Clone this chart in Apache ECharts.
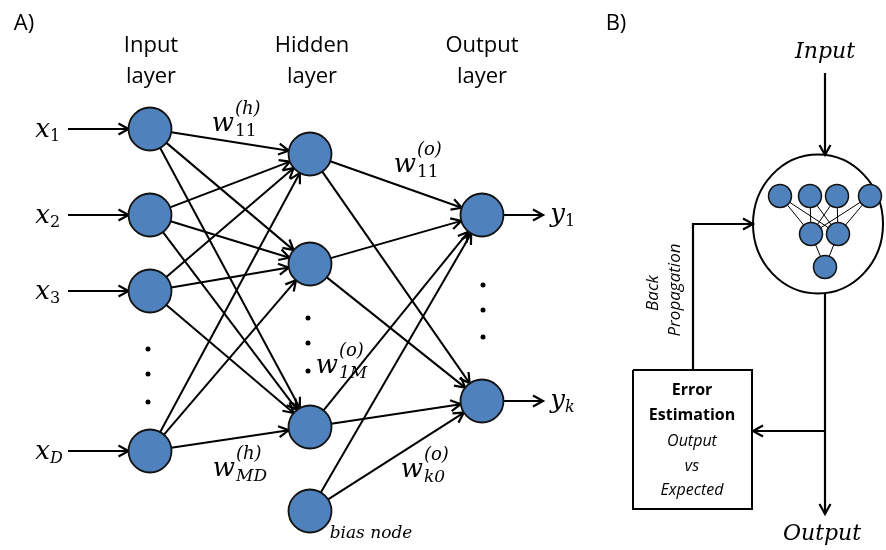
<!DOCTYPE html>
<html><head><meta charset="utf-8">
<script src="https://cdn.jsdelivr.net/npm/echarts@6/dist/echarts.min.js"></script>
<style>html,body{margin:0;padding:0;background:#fff}#c{width:886px;height:550px}</style>
</head><body><div id="c"></div>
<script>
// ---------- Panel A: feed-forward network (diagram units = canvas units) ----------
const inputLayerX = 150, hiddenLayerX = 310, outputLayerX = 482;
const inputNodeY = [129, 215, 291, 451];
const inputSubscripts = ['1', '2', '3', 'D'];
const hiddenNodeY = [154, 264, 427];
const biasNodeY = [511];
const outputNodeY = [215, 401];
const outputSubscripts = ['1', 'k'];
const inputEllipsisY = [349, 374, 402];
const hiddenEllipsisY = [318, 343, 371];
const outputEllipsisY = [285, 310, 337];
const inputArrowStartX = 68;
const outputArrowEndX = 543;
const layerTitles = [['Input', 'layer'], ['Hidden', 'layer'], ['Output', 'layer']];
const layerTitleX = [151, 312, 482];
const weightLabels = [
  { sup: '(h)', sub: '11', x: 234, y: 124 },
  { sup: '(o)', sub: '11', x: 416, y: 165 },
  { sup: '(o)', sub: '1M', x: 338, y: 366 },
  { sup: '(h)', sub: 'MD', x: 235, y: 469 },
  { sup: '(o)', sub: 'k0', x: 423, y: 470 }
];

// ---------- Panel B: training loop ----------
const netCircle = { x: 818, y: 224, rx: 65, ry: 69.5 };
const miniTopX = [780, 810, 837, 870], miniTopY = 196;
const miniMidX = [811, 838], miniMidY = 234;
const miniOutX = [825], miniOutY = 267;
const flowPaths = [
  { pts: [[825, 73], [825, 155]], arrow: true },
  { pts: [[693, 370], [693, 224], [753, 224]], arrow: true },
  { pts: [[825, 293], [825, 514]], arrow: true },
  { pts: [[825, 431], [753, 431]], arrow: true },
  { pts: [[633, 370], [752, 370], [752, 509], [633, 509], [633, 370]], arrow: false }
];
const errorBoxLines = [['Error', 'bold', 'normal'], ['Estimation', 'bold', 'normal'], ['Output', 'normal', 'italic'], ['vs', 'normal', 'italic'], ['Expected', 'normal', 'italic']];
const errorBoxLineY = [390, 415, 441, 466, 490];
const errorBoxX = 692;

// ---------- styles ----------
const SANS = '"Open Sans", sans-serif';
const SERIF = '"DejaVu Serif", serif';
const NODE_R = 21.5, MINI_R = 11.5;
const NODE_FILL = '#4f81bd', INK = '#000';

// ---------- build edges ----------
const edges = [];
inputNodeY.forEach(yi => hiddenNodeY.forEach(yh =>
  edges.push({ a: [inputLayerX, yi], b: [hiddenLayerX, yh], ra: NODE_R, rb: NODE_R, arrow: true, w: 2 })));
hiddenNodeY.concat(biasNodeY).forEach(yh => outputNodeY.forEach(yo =>
  edges.push({ a: [hiddenLayerX, yh], b: [outputLayerX, yo], ra: NODE_R, rb: NODE_R, arrow: true, w: 2 })));
inputNodeY.forEach(y => edges.push({ a: [inputArrowStartX, y], b: [inputLayerX, y], ra: 0, rb: NODE_R, arrow: true, w: 2.2 }));
outputNodeY.forEach(y => edges.push({ a: [outputLayerX, y], b: [outputArrowEndX, y], ra: NODE_R, rb: 0, arrow: true, w: 2.2 }));
miniTopX.forEach(xt => miniMidX.forEach(xm =>
  edges.push({ a: [xt, miniTopY], b: [xm, miniMidY], ra: 0, rb: 0, arrow: false, w: 1 })));
miniMidX.forEach(xm => miniOutX.forEach(xo =>
  edges.push({ a: [xm, miniMidY], b: [xo, miniOutY], ra: 0, rb: 0, arrow: false, w: 1 })));

function arrowHead(t, ux, uy) {
  const L = 10, H = 5.5;
  const bx = t[0] - ux * L, by = t[1] - uy * L;
  return { type: 'polyline', shape: { points: [[bx - uy * H, by + ux * H], [t[0], t[1]], [bx + uy * H, by - ux * H]] },
    style: { stroke: INK, fill: null, lineWidth: 2.2, lineJoin: 'miter' } };
}

function renderEdge(params, api) {
  const e = edges[params.dataIndex];
  const p1 = api.coord(e.a), p2 = api.coord(e.b);
  const dx = p2[0] - p1[0], dy = p2[1] - p1[1], len = Math.hypot(dx, dy);
  const ux = dx / len, uy = dy / len;
  const s = [p1[0] + ux * e.ra, p1[1] + uy * e.ra];
  const t = [p2[0] - ux * e.rb, p2[1] - uy * e.rb];
  const ch = [{ type: 'line', shape: { x1: s[0], y1: s[1], x2: t[0], y2: t[1] }, style: { stroke: INK, lineWidth: e.w } }];
  if (e.arrow) ch.push(arrowHead(t, ux, uy));
  return { type: 'group', children: ch };
}

function renderFlow(params, api) {
  const f = flowPaths[params.dataIndex];
  const pts = f.pts.map(p => api.coord(p));
  const ch = [{ type: 'polyline', shape: { points: pts }, style: { stroke: INK, fill: null, lineWidth: f.arrow ? 2.2 : 2 } }];
  if (f.arrow) {
    const a = pts[pts.length - 2], b = pts[pts.length - 1];
    const dx = b[0] - a[0], dy = b[1] - a[1], len = Math.hypot(dx, dy);
    ch.push(arrowHead(b, dx / len, dy / len));
  }
  return { type: 'group', children: ch };
}

// ---------- texts ----------
const texts = [];
function T(text, x, y, o) { texts.push(Object.assign({ text, x, y, size: 16, family: SANS, weight: 'normal', fstyle: 'normal', align: 'center', rot: 0 }, o || {})); }
T('A)', 24, 24, { size: 22 });
T('B)', 616, 24, { size: 22 });
layerTitles.forEach((lines, i) => lines.forEach((ln, j) => T(ln, layerTitleX[i], 46 + j * 31, { size: 22 })));
weightLabels.forEach(w => {
  T('w', w.x, w.y, { size: 26, family: SERIF, fstyle: 'italic', align: 'right' });
  T(w.sup, w.x + 1, w.y - 15, { size: 18, family: SERIF, fstyle: 'italic', align: 'left' });
  T(w.sub, w.x + 1, w.y + 8, { size: 17, family: SERIF, fstyle: /\d\d/.test(w.sub) ? 'normal' : 'italic', align: 'left' });
});
inputNodeY.forEach((y, i) => {
  T('x', 50, y + 1, { size: 26, family: SERIF, fstyle: 'italic', align: 'right' });
  T(inputSubscripts[i], 50, y + 8, { size: 16, family: SERIF, fstyle: /\d/.test(inputSubscripts[i]) ? 'normal' : 'italic', align: 'left' });
});
outputNodeY.forEach((y, i) => {
  T('y', 565, y, { size: 26, family: SERIF, fstyle: 'italic', align: 'right' });
  T(outputSubscripts[i], 565, y + 7, { size: 16, family: SERIF, fstyle: /\d/.test(outputSubscripts[i]) ? 'normal' : 'italic', align: 'left' });
});
T('bias node', 371, 534, { size: 17, family: SERIF, fstyle: 'italic' });
T('Input', 825, 52, { size: 22, family: SERIF, fstyle: 'italic' });
T('Output', 822, 534, { size: 22, family: SERIF, fstyle: 'italic' });
T('Back', 653, 293, { size: 17, fstyle: 'italic', rot: Math.PI / 2 });
T('Propagation', 675, 290, { size: 17, fstyle: 'italic', rot: Math.PI / 2 });
errorBoxLines.forEach((l, i) => T(l[0], errorBoxX, errorBoxLineY[i], { size: 16, weight: l[1], fstyle: l[2] }));

function renderText(params, api) {
  const t = texts[params.dataIndex];
  const p = api.coord([t.x, t.y]);
  return { type: 'text', x: p[0], y: p[1], rotation: t.rot,
    style: { text: t.text, fill: INK, fontSize: t.size, fontFamily: t.family, fontWeight: t.weight, fontStyle: t.fstyle,
      align: t.align, verticalAlign: 'middle' } };
}

function renderCircle(params, api) {
  const c = api.coord([netCircle.x, netCircle.y]);
  const s = api.size([netCircle.rx, netCircle.ry]);
  return { type: 'ellipse', shape: { cx: c[0], cy: c[1], rx: s[0], ry: s[1] }, style: { stroke: INK, fill: null, lineWidth: 2 } };
}

const mainNodes = []
  .concat(inputNodeY.map(y => [inputLayerX, y]))
  .concat(hiddenNodeY.map(y => [hiddenLayerX, y]))
  .concat(biasNodeY.map(y => [hiddenLayerX, y]))
  .concat(outputNodeY.map(y => [outputLayerX, y]));
const miniNodes = []
  .concat(miniTopX.map(x => [x, miniTopY]))
  .concat(miniMidX.map(x => [x, miniMidY]))
  .concat(miniOutX.map(x => [x, miniOutY]));
const dots = []
  .concat(inputEllipsisY.map(y => [inputLayerX - 2, y]))
  .concat(hiddenEllipsisY.map(y => [hiddenLayerX - 2, y]))
  .concat(outputEllipsisY.map(y => [outputLayerX + 1, y]));

const chart = echarts.init(document.getElementById('c'), null, { renderer: 'canvas' });
chart.setOption({
  animation: false,
  backgroundColor: '#fff',
  grid: { left: 0, right: 0, top: 0, bottom: 0 },
  xAxis: { type: 'value', min: 0, max: 886, show: false },
  yAxis: { type: 'value', min: 0, max: 550, inverse: true, show: false },
  series: [
    { type: 'custom', name: 'edges', renderItem: renderEdge, data: edges.map(e => [e.a[0], e.a[1], e.b[0], e.b[1]]), encode: { x: [0, 2], y: [1, 3] }, silent: true, z: 1 },
    { type: 'custom', name: 'flow', renderItem: renderFlow, data: flowPaths.map(f => f.pts[0]), encode: { x: 0, y: 1 }, silent: true, z: 1 },
    { type: 'custom', name: 'circle', renderItem: renderCircle, data: [[netCircle.x, netCircle.y]], encode: { x: 0, y: 1 }, silent: true, z: 1 },
    { type: 'scatter', name: 'nodes', data: mainNodes, symbolSize: NODE_R * 2, itemStyle: { color: NODE_FILL, borderColor: '#111', borderWidth: 1.8, opacity: 1 }, silent: true, z: 3 },
    { type: 'scatter', name: 'mini', data: miniNodes, symbolSize: MINI_R * 2, itemStyle: { color: NODE_FILL, borderColor: '#111', borderWidth: 1.5, opacity: 1 }, silent: true, z: 3 },
    { type: 'scatter', name: 'dots', data: dots, symbolSize: 5, itemStyle: { color: INK, opacity: 1 }, silent: true, z: 3 },
    { type: 'custom', name: 'texts', renderItem: renderText, data: texts.map(t => [t.x, t.y]), encode: { x: 0, y: 1 }, silent: true, z: 5 }
  ]
});
</script></body></html>
